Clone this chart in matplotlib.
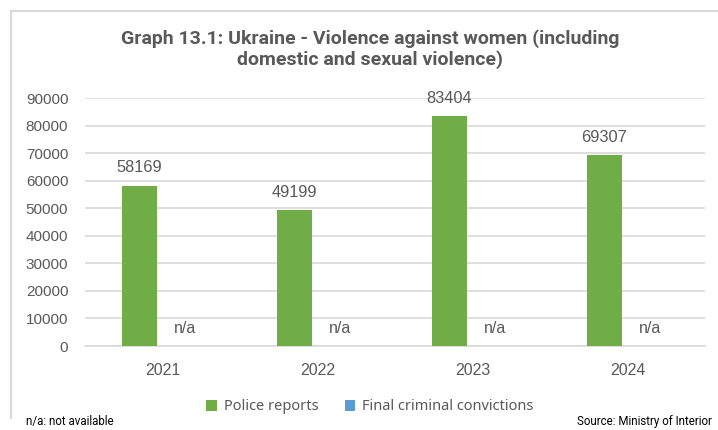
import matplotlib
matplotlib.use("Agg")
import matplotlib.pyplot as plt
from matplotlib.lines import Line2D
import numpy as np

years = ["2021", "2022", "2023", "2024"]
police_reports = [58169, 49199, 83404, 69307]
convictions = [0, 0, 0, 0]
conviction_labels = ["n/a", "n/a", "n/a", "n/a"]
yticks = [0, 10000, 20000, 30000, 40000, 50000, 60000, 70000, 80000, 90000]

GREEN = "#70AD47"
BLUE = "#5B9BD5"
TXT = "#595959"
GRID = "#D9D9D9"

fig = plt.figure(figsize=(7.18, 4.30), dpi=100)
ax = fig.add_axes([85/718, 1-346/430, 620/718, (346-98)/430])

x = np.arange(len(years))
w = 0.225
off = 0.148
b1 = ax.bar(x - off, police_reports, w, color=GREEN, label="Police reports", zorder=3)
b2 = ax.bar(x + off, convictions, w, color=BLUE, label="Final criminal convictions", zorder=3)

for rect, v in zip(b1, police_reports):
    ax.annotate(str(v), (rect.get_x() + rect.get_width()/2, v), xytext=(0, 7.5),
                textcoords="offset points", ha="center", va="bottom",
                fontsize=11.8, color=TXT, family="Liberation Sans")
for rect, lab in zip(b2, conviction_labels):
    ax.annotate(lab, (rect.get_x() + rect.get_width()/2, 0), xytext=(0, 7),
                textcoords="offset points", ha="center", va="bottom",
                fontsize=11.5, color=TXT, family="Liberation Sans")

ax.set_xlim(-0.5, len(years) - 0.5)
ax.set_ylim(0, 90000)
ax.set_yticks(yticks)
ax.set_yticklabels([str(t) for t in yticks], family="Liberation Sans", fontsize=11, color=TXT)
ax.set_xticks(x)
ax.set_xticklabels(years, family="Liberation Sans", fontsize=11.5, color=TXT)
ax.tick_params(axis="y", length=0, pad=12)
ax.tick_params(axis="x", length=0, pad=12)
ax.yaxis.grid(True, color=GRID, linewidth=1.2, zorder=0)
ax.set_axisbelow(True)
for s in ["top", "right", "left"]:
    ax.spines[s].set_visible(False)
ax.spines["bottom"].set_color(GRID)
ax.spines["bottom"].set_linewidth(1.2)

fig.text(370/718, 1-49/430, "Graph 13.1: Ukraine - Violence against women (including\ndomestic and sexual violence)",
         ha="center", va="center", fontsize=14, fontweight="bold", color=TXT,
         family="Roboto", linespacing=1.12)

leg = fig.legend(handles=[b1, b2], loc="center", bbox_to_anchor=(370/718, 1-407/430),
                 ncol=2, frameon=False, handlelength=0.7, handleheight=0.7,
                 handletextpad=0.5, columnspacing=1.8, prop={"family": "Noto Sans", "size": 10.5})
for t in leg.get_texts():
    t.set_color(TXT)

fig.text(26/718, 1-421/430, "n/a: not available", ha="left", va="center", fontsize=8.3,
         family="Roboto", color="black")
fig.text(712/718, 1-421/430, "Source: Ministry of Interior", ha="right", va="center", fontsize=8.3,
         family="Roboto", color="black")

fig.add_artist(Line2D([10.5/718, 10.5/718], [1-418/430, 1-11/430], transform=fig.transFigure,
                      color=GRID, linewidth=1.5))
fig.add_artist(Line2D([10.5/718, 1.0], [1-11/430, 1-11/430], transform=fig.transFigure,
                      color=GRID, linewidth=1.5))

fig.savefig("out.png", dpi=100)
